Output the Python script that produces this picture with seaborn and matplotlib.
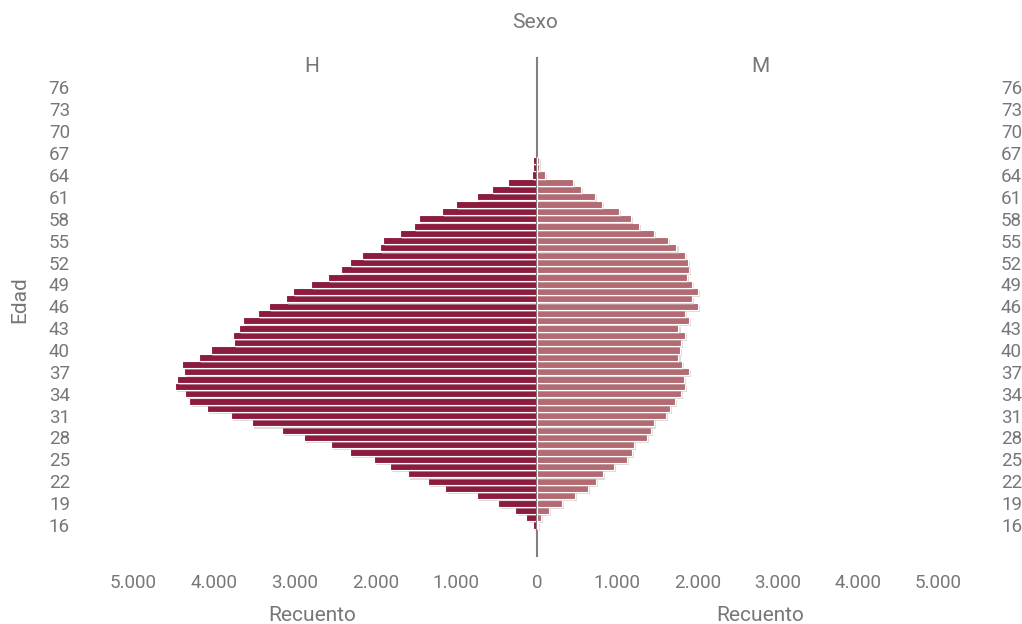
import matplotlib
matplotlib.use("Agg")
import matplotlib.pyplot as plt
import matplotlib.patheffects as pe
from matplotlib.ticker import FuncFormatter
import seaborn as sns
import pandas as pd

# ---- data ----
edad = list(range(16, 67))  # 16 .. 66
hombres = [53, 131, 267, 488, 746, 1134, 1347, 1601, 1822, 2023, 2318, 2551, 2891,
           3153, 3530, 3792, 4087, 4304, 4365, 4484, 4463, 4373, 4402, 4189, 4038,
           3755, 3768, 3689, 3640, 3452, 3321, 3104, 3026, 2801, 2584, 2429, 2313,
           2166, 1945, 1908, 1695, 1520, 1466, 1176, 999, 741, 553, 365, 65, 50, 50]
mujeres = [16, 46, 149, 310, 475, 636, 735, 818, 963, 1119, 1181, 1210, 1367, 1417,
           1458, 1602, 1660, 1722, 1793, 1846, 1834, 1892, 1805, 1763, 1784, 1793,
           1846, 1763, 1896, 1846, 2003, 1933, 2003, 1933, 1871, 1892, 1887, 1846,
           1739, 1632, 1462, 1276, 1173, 1025, 805, 719, 545, 450, 100, 30, 30]
sexo_labels = ["H", "M"]
y_ticks = list(range(16, 77, 3))
x_ticks = [0, 1000, 2000, 3000, 4000, 5000]

df = pd.DataFrame({"Edad": edad, "H": hombres, "M": mujeres})

sns.set_theme(style="white")
plt.rcParams["font.family"] = ["Roboto", "DejaVu Sans"]

GRAY = "#777777"
C_H = "#8D1B3D"
C_M = "#B36A72"

W, Hh = 1022, 624
fig = plt.figure(figsize=(W / 100, Hh / 100), dpi=100)

top_px, bot_px = 58, 556
left_px, mid_px, right_px = 88, 537, 983
fb = 1 - bot_px / Hh
fh = (bot_px - top_px) / Hh
axL = fig.add_axes([left_px / W, fb, (mid_px - left_px) / W, fh])
axR = fig.add_axes([mid_px / W, fb, (right_px - mid_px) / W, fh])

px_per_year = (525 - 87.5) / 60
ylim = (16 - (bot_px - 525) / px_per_year, 76 + (87.5 - top_px) / px_per_year)
xmax = 5560

shadow = [pe.SimplePatchShadow(offset=(1.5, -1.5), shadow_rgbFace="#bbbbbb", alpha=0.5), pe.Normal()]

sns.barplot(data=df, x="H", y="Edad", orient="h", native_scale=True, color=C_H,
            saturation=1, width=0.97, edgecolor="white", linewidth=0.8, ax=axL)
sns.barplot(data=df, x="M", y="Edad", orient="h", native_scale=True, color=C_M,
            saturation=1, width=0.97, edgecolor="white", linewidth=0.8, ax=axR)
for ax in (axL, axR):
    for p in ax.patches:
        p.set_path_effects(shadow)

fmt = FuncFormatter(lambda v, pos: f"{int(v):,}".replace(",", "."))

axL.set_xlim(xmax, 0)
axR.set_xlim(0, xmax)
for ax in (axL, axR):
    ax.set_ylim(*ylim)
    ax.set_yticks(y_ticks)
    ax.xaxis.set_major_formatter(fmt)
    ax.tick_params(axis="both", length=0, labelsize=13.5, labelcolor=GRAY)
    ax.tick_params(axis="x", pad=13)
    ax.set_xlabel("Recuento", fontsize=15, color=GRAY, labelpad=10)
    ax.set_ylabel("")
    for s in ax.spines.values():
        s.set_visible(False)
    ax.set_facecolor("none")

axL.set_xticks(x_ticks)
axR.set_xticks(x_ticks[1:])
axL.tick_params(axis="y", pad=13)
axR.yaxis.tick_right()
axR.tick_params(axis="y", pad=13, labelright=True, labelleft=False)

axL.spines["right"].set_visible(True)
axL.spines["right"].set_color("#808080")
axL.spines["right"].set_linewidth(1.5)
axL.spines["right"].set_zorder(5)

fig.text(535 / W, 1 - 22 / Hh, "Sexo", ha="center", va="center", fontsize=15, color=GRAY)
fig.text(312 / W, 1 - 67 / Hh, sexo_labels[0], ha="center", va="center", fontsize=15, color=GRAY)
fig.text(760 / W, 1 - 67 / Hh, sexo_labels[1], ha="center", va="center", fontsize=15, color=GRAY)
fig.text(20 / W, 1 - 300 / Hh, "Edad", ha="center", va="center", rotation=90, fontsize=15, color=GRAY)

fig.savefig("out.png", dpi=100)
